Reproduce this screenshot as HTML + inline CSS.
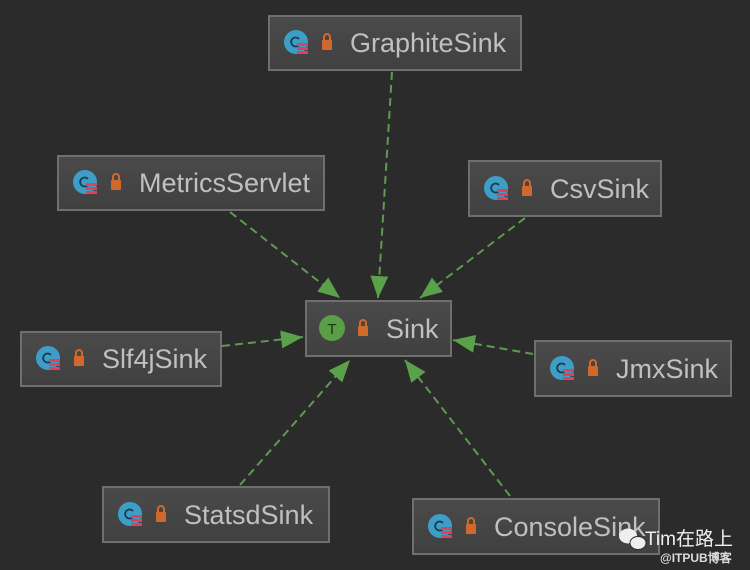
<!DOCTYPE html>
<html><head><meta charset="utf-8"><style>
html,body{margin:0;padding:0;background:#2b2b2b;}
svg{display:block}
text{font-family:"Liberation Sans",sans-serif;}
</style></head><body>
<svg width="750" height="570" viewBox="0 0 750 570" xmlns="http://www.w3.org/2000/svg">
<defs>
<linearGradient id="bg" x1="0" y1="0" x2="0" y2="1"><stop offset="0" stop-color="#4a4a4a"/><stop offset="1" stop-color="#404040"/></linearGradient>
<g id="ci">
<circle cx="0" cy="0" r="12" fill="#3d9fc8"/>
<path d="M3,-3 A4.5,4.5 0 1 0 3,3" fill="none" stroke="#1d3a4a" stroke-width="1.8"/>
<rect x="1" y="1" width="11" height="3" fill="#e0405a"/>
<rect x="1" y="5" width="11" height="3" fill="#e0405a"/>
<rect x="1" y="9" width="11" height="3" fill="#e0405a"/>
</g>
<g id="lk">
<path d="M-3,-3 V-6 A3,3 0 0 1 3,-6 V-3" fill="none" stroke="#d2692c" stroke-width="2"/>
<rect x="-5" y="-3" width="10" height="10" rx="1" fill="#d2692c"/>
</g>
<marker id="ah" markerWidth="24" markerHeight="18" refX="22" refY="9" orient="auto" markerUnits="userSpaceOnUse">
<path d="M0,0 L22,9 L0,18 Z" fill="#5aa14a"/>
</marker>
</defs>
<g stroke="#5e9a4f" stroke-width="2" stroke-dasharray="8,5" fill="none" marker-end="url(#ah)">
<line x1="392" y1="72" x2="378" y2="298"/>
<line x1="230" y1="212" x2="340" y2="298"/>
<line x1="525" y1="218" x2="420" y2="298"/>
<line x1="222" y1="346" x2="303" y2="337"/>
<line x1="533" y1="354" x2="453" y2="340"/>
<line x1="240" y1="485" x2="350" y2="360"/>
<line x1="510" y1="496" x2="405" y2="360"/>
</g>
<g stroke="#6f6f6f" stroke-width="2" fill="url(#bg)">
<rect x="269" y="16" width="252" height="54"/>
<rect x="58" y="156" width="266" height="54"/>
<rect x="469" y="161" width="192" height="55"/>
<rect x="306" y="301" width="145" height="55"/>
<rect x="21" y="332" width="200" height="54"/>
<rect x="535" y="341" width="196" height="55"/>
<rect x="103" y="487" width="226" height="55"/>
<rect x="413" y="499" width="246" height="55"/>
</g>
<g fill="#c0c0c0" font-size="27">
<use href="#ci" x="296" y="42"/><use href="#lk" x="327" y="43"/><text x="350" y="52">GraphiteSink</text>
<use href="#ci" x="85" y="182"/><use href="#lk" x="116" y="183"/><text x="139" y="192">MetricsServlet</text>
<use href="#ci" x="496" y="188"/><use href="#lk" x="527" y="189"/><text x="550" y="198">CsvSink</text>
<use href="#ci" x="48" y="358"/><use href="#lk" x="79" y="359"/><text x="102" y="368">Slf4jSink</text>
<use href="#ci" x="562" y="368"/><use href="#lk" x="593" y="369"/><text x="616" y="378">JmxSink</text>
<use href="#ci" x="130" y="514"/><use href="#lk" x="161" y="515"/><text x="184" y="524">StatsdSink</text>
<use href="#ci" x="440" y="526"/><use href="#lk" x="471" y="527"/><text x="494" y="536">ConsoleSink</text>
<circle cx="332" cy="328" r="13" fill="#5a9e47"/>
<text x="332" y="334" font-size="15" fill="#1e3318" text-anchor="middle">T</text>
<use href="#lk" x="363" y="329"/><text x="386" y="338">Sink</text>
</g>
<g>
<ellipse cx="628" cy="536" rx="9" ry="7.5" fill="#eee"/>
<ellipse cx="638" cy="543" rx="8" ry="6.5" fill="#eee" stroke="#2b2b2b" stroke-width="1"/>
<text x="645" y="545" font-size="19" fill="#f0f0f0" font-family="Liberation Sans,Noto Sans CJK SC,sans-serif">Tim在路上</text>
<text x="660" y="562" font-size="12" font-weight="bold" fill="#dddddd" font-family="Liberation Sans,Noto Sans CJK SC,sans-serif">@ITPUB博客</text>
</g>
</svg>
</body></html>
